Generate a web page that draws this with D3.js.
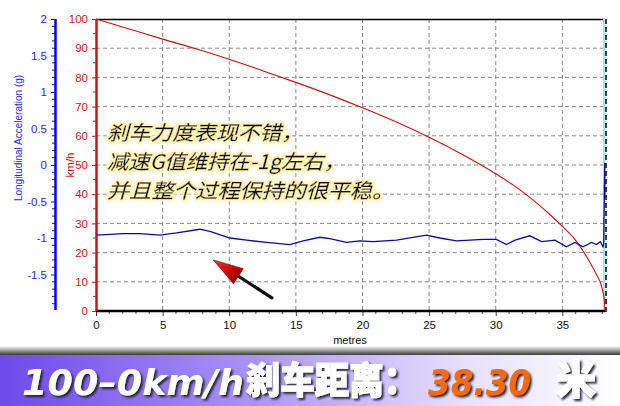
<!DOCTYPE html>
<html><head><meta charset="utf-8">
<script src="https://cdn.jsdelivr.net/npm/d3@7"></script>
<style>body{margin:0;background:#fff}svg{display:block}</style>
</head><body>
<script>
// ---- data ----
const speedDist = [0,2.5,5,7.5,10,12.5,15,17.5,20,22.5,25,27.5,30,32,34,35,36,37,37.5,38,38.15,38.2];
const speedVals = [100,96.6,93.1,89.8,86.2,82.3,78.3,74.1,69.6,64.8,59.5,53.6,47.0,40.9,33.3,29.0,24.2,17.2,13.0,7.5,3.5,0];
const accDist = [0.05,2.05,3.3,4.8,6.05,7.8,8.55,10.05,11.3,12.8,14.55,15.55,16.8,17.55,18.8,19.8,20.8,22.55,24.8,25.8,27.05,29.05,30.05,30.8,31.45,32.55,33.45,34.45,35.3,35.95,36.55,37.2,37.55,37.85,38.05,38.1,38.18,38.2];
const accVals = [-0.96,-0.94,-0.94,-0.96,-0.93,-0.88,-0.91,-1.00,-1.03,-1.06,-1.09,-1.04,-0.99,-1.01,-1.06,-1.04,-1.05,-1.03,-0.96,-1.00,-1.04,-1.02,-1.02,-1.09,-1.03,-0.97,-1.05,-1.03,-1.12,-1.06,-1.12,-1.06,-1.09,-1.05,-1.12,-1.07,0.03,-0.45];
const xTicks = [0,5,10,15,20,25,30,35];
const speedTicks = [0,10,20,30,40,50,60,70,80,90,100];
const accTicks = [2,1.5,1,0.5,0,-0.5,-1,-1.5];
const noteLines = ["刹车力度表现不错，","减速G值维持在-1g左右，","并且整个过程保持的很平稳。"];
const noteWidths = [196,238,287];
const arrowTip = [8.8,17.5], arrowTail = [13.2,4.5];
const bannerParts = ["100–0km/h","刹车距离：","38.30","米"];

const W=620,H=406;
const svg=d3.select("body").append("svg").attr("width",W).attr("height",H);
const defs=svg.append("defs");

const x=d3.scaleLinear().domain([0,38.2]).range([96,605]);
const yS=d3.scaleLinear().domain([0,100]).range([311,19]);
const yA=d3.scaleLinear().domain([-2,2]).range([311,19]);

// grid
const g=svg.append("g");
g.selectAll(".gx").data(xTicks.filter(d=>d>0)).join("line")
 .attr("x1",d=>x(d)).attr("x2",d=>x(d)).attr("y1",19).attr("y2",311)
 .attr("stroke","#8a8a8a").attr("stroke-dasharray","4,3");
g.selectAll(".gy").data(speedTicks.filter(d=>d>0&&d<100)).join("line")
 .attr("x1",96).attr("x2",605).attr("y1",d=>yS(d)).attr("y2",d=>yS(d))
 .attr("stroke","#8a8a8a").attr("stroke-dasharray","4,3");

// top border & right markers
svg.append("line").attr("x1",96).attr("x2",605).attr("y1",19.5).attr("y2",19.5).attr("stroke","#000").attr("stroke-width",1.5);
svg.append("line").attr("x1",604).attr("x2",604).attr("y1",19).attr("y2",312).attr("stroke","#9fe8ec").attr("stroke-width",2);
svg.append("line").attr("x1",606).attr("x2",606).attr("y1",19).attr("y2",312).attr("stroke","#000").attr("stroke-width",1.5).attr("stroke-dasharray","5,3");

// x axis
const xAxis=d3.axisBottom(x).tickValues(xTicks).tickSize(5).tickFormat(d3.format("d"));
const gx=svg.append("g").attr("transform","translate(0,311)").call(xAxis);
gx.select(".domain").remove();
gx.selectAll("text").attr("font-family","Liberation Sans, Arial").attr("font-size",11.5).attr("fill","#111").attr("dy","0.9em");
gx.selectAll("line").attr("stroke","#444");
svg.append("g").selectAll("line").data(d3.range(0,39,1).filter(d=>d%5!==0)).join("line")
 .attr("x1",d=>x(d)).attr("x2",d=>x(d)).attr("y1",311).attr("y2",314).attr("stroke","#555");
svg.append("line").attr("x1",96).attr("x2",605).attr("y1",311).attr("y2",311).attr("stroke","#000").attr("stroke-width",2.5);
svg.append("text").attr("x",350).attr("y",344).attr("text-anchor","middle").attr("font-family","Liberation Sans, Arial").attr("font-size",11).attr("fill","#111").text("metres");

// speed (red) axis
const ySAxis=d3.axisLeft(yS).tickValues(speedTicks).tickSize(4).tickPadding(4);
const gs=svg.append("g").attr("transform","translate(96,0)").call(ySAxis);
gs.select(".domain").remove();
gs.selectAll("text").attr("font-family","Liberation Sans, Arial").attr("font-size",11.5).attr("fill","#d01818");
gs.selectAll("line").attr("stroke","#c81010");
svg.append("g").selectAll("line").data(d3.range(5,100,10)).join("line")
 .attr("x1",93).attr("x2",96).attr("y1",d=>yS(d)).attr("y2",d=>yS(d)).attr("stroke","#c81010");
svg.append("line").attr("x1",96.5).attr("x2",96.5).attr("y1",19).attr("y2",311).attr("stroke","#c81818").attr("stroke-width",2.5);
svg.append("text").attr("transform","translate(74,165) rotate(-90)").attr("text-anchor","middle")
 .attr("font-family","Liberation Sans, Arial").attr("font-size",11.5).attr("fill","#d01818").text("km/h");

// acceleration (blue) axis
const yAAxis=d3.axisLeft(yA).tickValues(accTicks).tickSize(4).tickPadding(4).tickFormat(d=>String(d));
const ga=svg.append("g").attr("transform","translate(55,0)").call(yAAxis);
ga.select(".domain").remove();
ga.selectAll("text").attr("font-family","Liberation Sans, Arial").attr("font-size",11.5).attr("fill","#2a2ae0");
ga.selectAll("line").attr("stroke","#1010e0");
svg.append("g").selectAll("line").data(d3.range(-19,20,1).filter(d=>d%5!==0).map(d=>d/10)).join("line")
 .attr("x1",52).attr("x2",55).attr("y1",d=>yA(d)).attr("y2",d=>yA(d)).attr("stroke","#1010e0");
svg.append("line").attr("x1",55.5).attr("x2",55.5).attr("y1",19).attr("y2",310).attr("stroke","#0000ff").attr("stroke-width",2.5);
svg.append("text").attr("transform","translate(22,138) rotate(-90)").attr("text-anchor","middle")
 .attr("font-family","Liberation Sans, Arial").attr("font-size",10).attr("fill","#2a2ae0").text("Longitudinal Acceleration (g)");

// series
const speedLine=d3.line().x((d,i)=>x(speedDist[i])).y(d=>yS(d)).curve(d3.curveMonotoneX);
svg.append("path").datum(speedVals).attr("d",speedLine).attr("fill","none").attr("stroke","#cc1010").attr("stroke-width",1.1);
const accLine=d3.line().x((d,i)=>x(accDist[i])).y(d=>yA(d));
svg.append("path").datum(accVals).attr("d",accLine).attr("fill","none").attr("stroke","#0a0aa8").attr("stroke-width",1.3);

// annotation glow filter
const f=defs.append("filter").attr("id","glow").attr("x","-10%").attr("y","-30%").attr("width","120%").attr("height","160%");
f.append("feMorphology").attr("in","SourceAlpha").attr("operator","dilate").attr("radius",2).attr("result","d");
f.append("feGaussianBlur").attr("in","d").attr("stdDeviation",1.8).attr("result","b");
f.append("feFlood").attr("flood-color","#fff3b0").attr("result","c");
f.append("feComposite").attr("in","c").attr("in2","b").attr("operator","in").attr("result","gl");
const fm=f.append("feMerge");
fm.append("feMergeNode").attr("in","gl");
fm.append("feMergeNode").attr("in","SourceGraphic");

svg.append("g").attr("filter","url(#glow)").selectAll("text").data(noteLines).join("text")
 .attr("x",107).attr("y",(d,i)=>140+i*29)
 .attr("textLength",(d,i)=>noteWidths[i]).attr("lengthAdjust","spacingAndGlyphs")
 .attr("font-family","Noto Sans CJK SC").attr("font-size",20).attr("font-style","italic")
 .attr("fill","#0a0a0a").attr("stroke","#0a0a0a").attr("stroke-width",0.3).text(d=>d);

// arrow
const ag=defs.append("linearGradient").attr("id","arrowG").attr("x1","0").attr("y1","0").attr("x2","1").attr("y2","1");
ag.append("stop").attr("offset","0").attr("stop-color","#ff3030");
ag.append("stop").attr("offset","0.6").attr("stop-color","#c00000");
ag.append("stop").attr("offset","1").attr("stop-color","#600000");
const tip=[x(arrowTip[0]),yS(arrowTip[1])], tail=[x(arrowTail[0]),yS(arrowTail[1])];
const dx=tail[0]-tip[0], dy=tail[1]-tip[1], L=Math.hypot(dx,dy), ux=dx/L, uy=dy/L;
const hb=[tip[0]+ux*30,tip[1]+uy*30];
svg.append("line").attr("x1",hb[0]-ux*4).attr("y1",hb[1]-uy*4).attr("x2",tail[0]).attr("y2",tail[1])
 .attr("stroke","#111").attr("stroke-width",3.2).attr("stroke-linecap","round");
svg.append("path").attr("d",`M${tip[0]},${tip[1]}L${hb[0]-uy*9},${hb[1]+ux*9}L${hb[0]+uy*9},${hb[1]-ux*9}Z`)
 .attr("fill","url(#arrowG)").attr("stroke","#7a0000").attr("stroke-width",0.6);

// banner
const sg=defs.append("linearGradient").attr("id","shad").attr("x1",0).attr("y1",0).attr("x2",0).attr("y2",1);
sg.append("stop").attr("offset",0).attr("stop-color","#ffffff");
sg.append("stop").attr("offset",1).attr("stop-color","#3a3a3a");
svg.append("rect").attr("x",0).attr("y",346).attr("width",W).attr("height",9).attr("fill","url(#shad)");
const bg=defs.append("linearGradient").attr("id","ban").attr("x1",0).attr("y1",0).attr("x2",1).attr("y2",0);
bg.append("stop").attr("offset",0).attr("stop-color","#6e4aea");
bg.append("stop").attr("offset",0.4).attr("stop-color","#a792f6");
bg.append("stop").attr("offset",0.75).attr("stop-color","#e6e0fc");
bg.append("stop").attr("offset",1).attr("stop-color","#ffffff");
svg.append("rect").attr("x",0).attr("y",355).attr("width",W).attr("height",H-355).attr("fill","url(#ban)");
const ds=defs.append("filter").attr("id","ds").attr("x","-5%").attr("y","-20%").attr("width","115%").attr("height","150%");
ds.append("feDropShadow").attr("dx",2).attr("dy",2).attr("stdDeviation",1.2).attr("flood-color","#1a1a30").attr("flood-opacity",0.95);
const bt=svg.append("g").attr("filter","url(#ds)");
bt.append("text").attr("x",22).attr("y",395).attr("textLength",222).attr("lengthAdjust","spacingAndGlyphs")
 .attr("font-family","DejaVu Sans").attr("font-weight","bold").attr("font-style","italic").attr("font-size",35)
 .attr("fill","#fff").text(bannerParts[0]);
bt.append("text").attr("x",246).attr("y",394).attr("textLength",172).attr("lengthAdjust","spacingAndGlyphs")
 .attr("font-family","Noto Sans CJK SC").attr("font-weight","900").attr("font-size",37)
 .attr("fill","#fff").attr("stroke","#fff").attr("stroke-width",1).text(bannerParts[1]);
bt.append("text").attr("x",428).attr("y",395).attr("textLength",103).attr("lengthAdjust","spacingAndGlyphs")
 .attr("font-family","DejaVu Sans").attr("font-weight","bold").attr("font-style","italic").attr("font-size",35)
 .attr("fill","#ff6a00").text(bannerParts[2]);
bt.append("text").attr("x",556).attr("y",394)
 .attr("font-family","Noto Sans CJK SC").attr("font-weight","900").attr("font-size",40)
 .attr("fill","#fff").attr("stroke","#fff").attr("stroke-width",1).text(bannerParts[3]);
</script>
</body></html>
